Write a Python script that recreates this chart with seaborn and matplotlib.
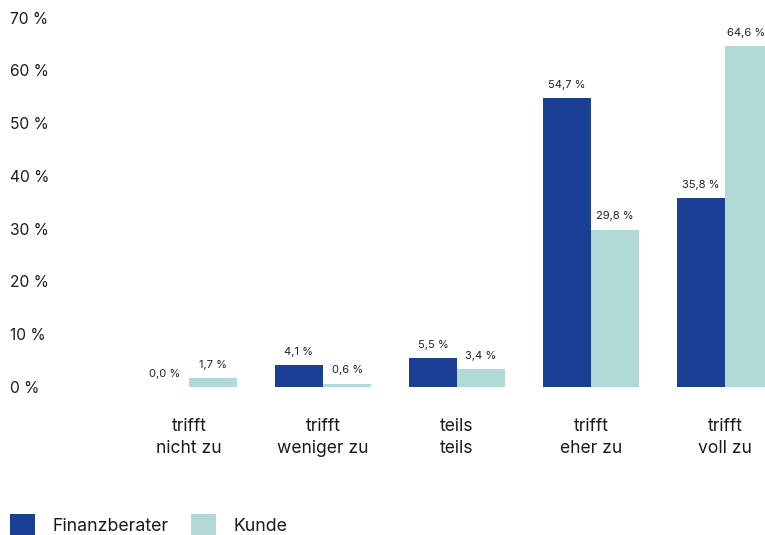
import matplotlib
matplotlib.use("Agg")
import matplotlib.pyplot as plt
import seaborn as sns
import pandas as pd
from matplotlib.patches import Patch

# Answer categories (two-line labels) and shares per group in percent
categories = ["trifft\nnicht zu", "trifft\nweniger zu", "teils\nteils", "trifft\neher zu", "trifft\nvoll zu"]
groups = ["Finanzberater", "Kunde"]
finanzberater = [0.0, 4.1, 5.5, 54.7, 35.8]
kunde = [1.7, 0.6, 3.4, 29.8, 64.6]
y_ticks = [0, 10, 20, 30, 40, 50, 60, 70]

colors = {"Finanzberater": "#1a4096", "Kunde": "#b1dad6"}

df = pd.DataFrame({
    "Kategorie": categories * 2,
    "Gruppe": [groups[0]] * len(categories) + [groups[1]] * len(categories),
    "Anteil": finanzberater + kunde,
})

sns.set_style("white")
plt.rcParams["font.family"] = ["Inter", "DejaVu Sans"]

W, H = 765, 535
fig = plt.figure(figsize=(W / 100, H / 100), dpi=100)
base_px, top_px = 387, 17.5
ax = fig.add_axes([0, (H - base_px) / H, 1, (base_px - top_px) / H])

sns.barplot(data=df, x="Kategorie", y="Anteil", hue="Gruppe", hue_order=groups,
            order=categories, palette=colors, width=0.72, saturation=1,
            linewidth=0, ax=ax, legend=False)

x_right = 4 + 40 / 134
ax.set_xlim(-189 / 134, x_right)
ax.set_ylim(0, 70)
ax.set_xlabel("")
ax.set_ylabel("")
sns.despine(ax=ax, left=True, bottom=True)

# Value labels above each bar; a label near the right edge is kept inside
for container in ax.containers:
    for bar in container:
        v = bar.get_height()
        xc = bar.get_x() + bar.get_width() / 2
        text = f"{v:.1f} %".replace(".", ",")
        if bar.get_x() + bar.get_width() > x_right:
            ax.annotate(text, (bar.get_x(), v), xytext=(1.5, 6),
                        textcoords="offset points", ha="left", va="bottom",
                        fontsize=8, color="#222222", annotation_clip=False)
        else:
            ax.annotate(text, (xc, v), xytext=(0, 6), textcoords="offset points",
                        ha="center", va="bottom", fontsize=8, color="#222222",
                        annotation_clip=False)

ax.set_yticks(y_ticks)
ax.set_yticklabels([f"{t} %" for t in y_ticks])
for lbl in ax.get_yticklabels():
    lbl.set_horizontalalignment("left")
ax.tick_params(axis="y", length=0, pad=-7.2, labelsize=11.2, colors="#1a1a1a")
ax.tick_params(axis="x", length=0, pad=22.5, labelsize=12.6, colors="#1a1a1a")
for lbl in ax.get_xticklabels():
    lbl.set_linespacing(1.35)

handles = [Patch(facecolor=colors[g], edgecolor="none", label=g) for g in groups]
fig.legend(handles=handles, loc="lower left", bbox_to_anchor=(10 / W, 0.0),
           ncol=2, frameon=False, fontsize=12.8, handlelength=1.4,
           handleheight=1.4, handletextpad=1.0, columnspacing=1.25,
           borderaxespad=0.0, borderpad=0.0, labelcolor="#1a1a1a")

fig.savefig("out.png", dpi=100)
